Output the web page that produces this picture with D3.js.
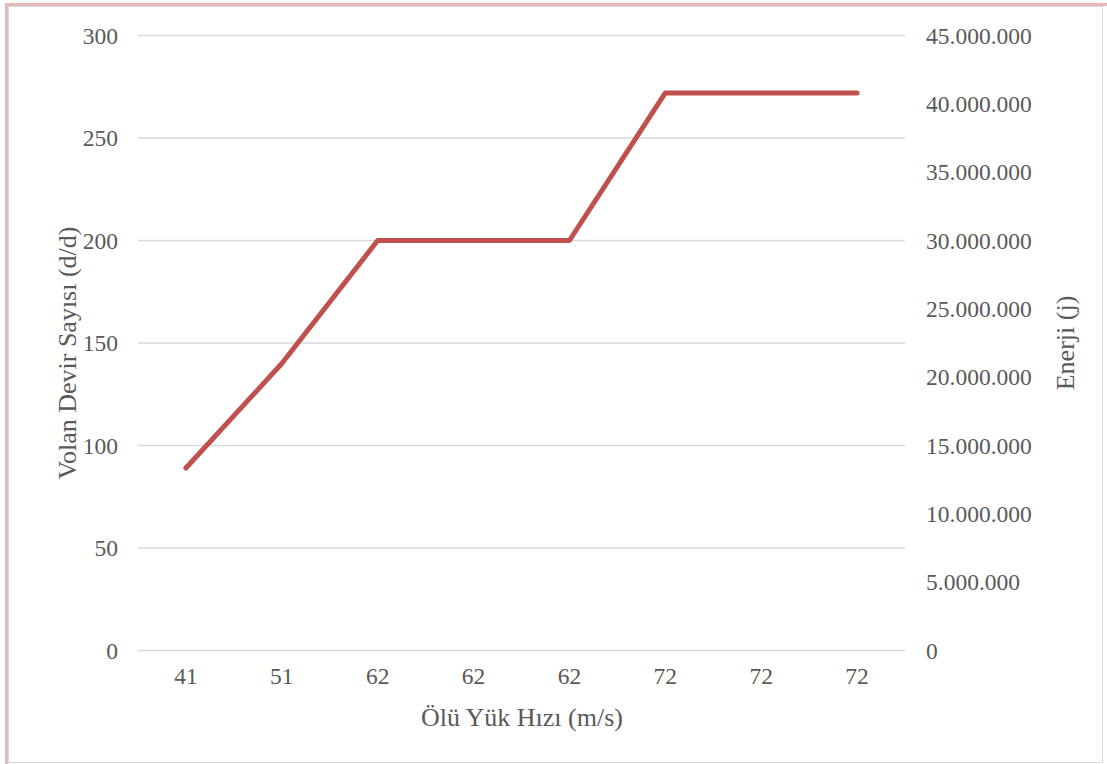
<!DOCTYPE html>
<html>
<head>
<meta charset="utf-8">
<script src="https://cdn.jsdelivr.net/npm/d3@7"></script>
<style>
  html, body { margin: 0; padding: 0; background: #ffffff; }
  svg { display: block; }
  text { font-family: "Liberation Serif", "Times New Roman", serif; fill: #595959; }
</style>
</head>
<body>
<svg id="chart" width="1107" height="764"></svg>
<script>
// Categories on the x axis (dead-load speed, m/s)
const categories = ["41", "51", "62", "62", "62", "72", "72", "72"];
// Flywheel speed (rev/min) for each category
const devirValues = [89, 140, 200, 200, 200, 272, 272, 272];
// Left axis ticks (rev/min) and right axis ticks (energy, J)
const leftTicks = [0, 50, 100, 150, 200, 250, 300];
const rightTicks = [0, 5000000, 10000000, 15000000, 20000000, 25000000, 30000000, 35000000, 40000000, 45000000];

const svg = d3.select("#chart");
const W = 1107, H = 764;

// Frame: pink outer edge on the top and left, thin grey border
svg.append("rect").attr("x", 0).attr("y", 0).attr("width", W).attr("height", H).attr("fill", "#ffffff");
svg.append("rect").attr("x", 5).attr("y", 3).attr("width", W - 5).attr("height", 3).attr("fill", "#E6B8B7");
svg.append("rect").attr("x", 5).attr("y", 3).attr("width", 3).attr("height", H - 3).attr("fill", "#E6B8B7");
svg.append("rect").attr("x", 8.5).attr("y", 6.5).attr("width", 1094).attr("height", 756)
  .attr("fill", "none").attr("stroke", "#D9D9D9").attr("stroke-width", 1);

const plot = { left: 138, right: 905, top: 35.5, bottom: 650.5 };

const x = d3.scaleBand().domain(d3.range(categories.length)).range([plot.left, plot.right]).padding(0);
const yL = d3.scaleLinear().domain([0, 300]).range([plot.bottom, plot.top]);
const yR = d3.scaleLinear().domain([0, 45000000]).range([plot.bottom, plot.top]);

const fmtDots = v => d3.format(",")(v).replace(/,/g, ".");

// Horizontal gridlines
svg.append("g").selectAll("line").data(leftTicks).join("line")
  .attr("x1", plot.left).attr("x2", plot.right)
  .attr("y1", d => yL(d)).attr("y2", d => yL(d))
  .attr("stroke", "#D9D9D9").attr("stroke-width", 1.3);

const tickFont = "23.5px";
const titleFont = "26px";

// Left axis
const leftAxis = svg.append("g").attr("transform", `translate(${plot.left},0)`)
  .call(d3.axisLeft(yL).tickValues(leftTicks).tickSize(0).tickPadding(20));
leftAxis.select(".domain").remove();
leftAxis.selectAll("text").style("font-size", tickFont).attr("fill", "#595959")
  .style("font-family", "Liberation Serif");

// Right axis
const rightAxis = svg.append("g").attr("transform", `translate(${plot.right},0)`)
  .call(d3.axisRight(yR).tickValues(rightTicks).tickSize(0).tickPadding(21).tickFormat(fmtDots));
rightAxis.select(".domain").remove();
rightAxis.selectAll("text").style("font-size", tickFont).attr("fill", "#595959")
  .style("font-family", "Liberation Serif");

// Bottom axis
const bottomAxis = svg.append("g").attr("transform", `translate(0,${plot.bottom})`)
  .call(d3.axisBottom(x).tickSize(0).tickPadding(17).tickFormat(i => categories[i]));
bottomAxis.select(".domain").remove();
bottomAxis.selectAll("text").style("font-size", tickFont).attr("fill", "#595959")
  .style("font-family", "Liberation Serif");

// Axis titles
svg.append("text").attr("x", 522).attr("y", 726)
  .attr("text-anchor", "middle").style("font-size", titleFont).text("Ölü Yük Hızı (m/s)");
svg.append("text").attr("transform", "translate(76,353) rotate(-90)")
  .attr("text-anchor", "middle").style("font-size", titleFont).text("Volan Devir Sayısı (d/d)");
svg.append("text").attr("transform", "translate(1074,343) rotate(-90)")
  .attr("text-anchor", "middle").style("font-size", titleFont).text("Enerji (j)");

// Data line
const line = d3.line()
  .x((d, i) => x(i) + x.bandwidth() / 2)
  .y(d => yL(d));
svg.append("path").datum(devirValues)
  .attr("d", line)
  .attr("fill", "none")
  .attr("stroke", "#C0504D")
  .attr("stroke-width", 5)
  .attr("stroke-linecap", "round")
  .attr("stroke-linejoin", "round");
</script>
</body>
</html>
